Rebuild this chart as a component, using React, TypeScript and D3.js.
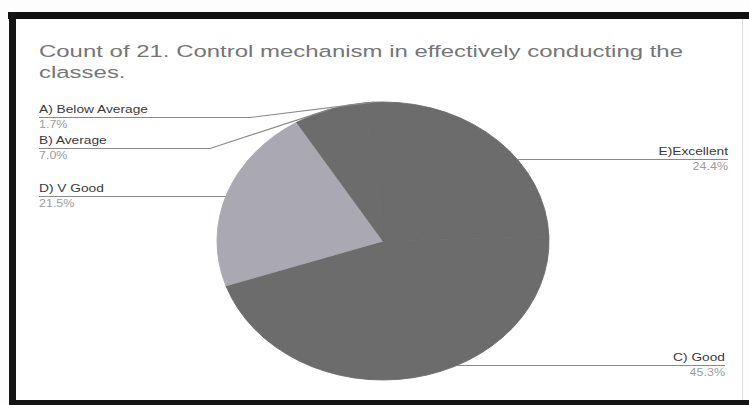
import React from "react";
import * as d3 from "d3";

// ---- data ----
const title = ["Count of 21. Control mechanism in effectively conducting the", "classes."];
const categories = ["E)Excellent", "C) Good", "D) V Good", "B) Average", "A) Below Average"];
const percents = [24.4, 45.3, 21.5, 7.0, 1.7];
const percentLabels = ["24.4%", "45.3%", "21.5%", "7.0%", "1.7%"];
const sliceColors = ["#6c6c6c", "#6c6c6c", "#aaa8b0", "#6c6c6c", "#6c6c6c"];

// ---- layout (positions only) ----
const W = 749;
const H = 405;
const cx = 383;
const cy = 241;
const rx = 166;
const ry = 139;
const STRETCH = 1.25;
type Lay = { side: "left" | "right"; x: number; y: number; elbowX?: number };
const labelLayout: Lay[] = [
  { side: "right", x: 728, y: 155 },
  { side: "right", x: 725, y: 361 },
  { side: "left", x: 39, y: 192 },
  { side: "left", x: 39, y: 144, elbowX: 210 },
  { side: "left", x: 39, y: 113, elbowX: 250 },
];

const FONT = "'Liberation Sans', Arial, sans-serif";

export default function App() {
  const pie = d3.pie<number>().sort(null).value((d) => d);
  const arcs = pie(percents);
  const arcGen = d3.arc<d3.PieArcDatum<number>>().innerRadius(0).outerRadius(ry);

  const edgeX = (y: number, side: "left" | "right") => {
    const t = (y - cy) / ry;
    const k = Math.sqrt(Math.max(0, 1 - t * t));
    return side === "left" ? cx - rx * k : cx + rx * k;
  };

  return (
    <svg
      width={W}
      height={H}
      style={{ position: "absolute", left: 0, top: 0, background: "#fff" }}
    >
      <rect x={0} y={0} width={W} height={H} fill="#fdfdfd" />
      {/* frame */}
      <rect x={8} y={12} width={W - 8} height={7} fill="#111" />
      <rect x={9} y={12} width={7} height={H - 12} fill="#151515" />
      <rect x={9} y={400} width={W - 9} height={5} fill="#141414" />
      <line x1={742} y1={19} x2={742} y2={400} stroke="#cfcfcf" strokeWidth={1.5} />
      <rect x={16} y={19} width={726} height={381} fill="#fff" />

      {/* title */}
      <g transform={`translate(39,57) scale(1.41,1)`} fill="#767676" fontFamily={FONT} fontSize={17}>
        <text x={0} y={0}>{title[0]}</text>
        <text x={0} y={21}>{title[1]}</text>
      </g>

      {/* pie */}
      <g transform={`translate(${cx},${cy}) scale(${rx / ry},1)`}>
        {arcs.map((a, i) => (
          <path
            key={i}
            d={arcGen(a) || ""}
            fill={sliceColors[i]}
            stroke={sliceColors[i]}
            strokeWidth={0.8}
          />
        ))}
      </g>

      {/* leader lines */}
      {arcs.map((a, i) => {
        const L = labelLayout[i];
        const lineY = L.y + 4.5;
        let pts: [number, number][];
        if (L.elbowX !== undefined) {
          const mid = (a.startAngle + a.endAngle) / 2;
          const px = cx + rx * Math.sin(mid);
          const py = cy - ry * Math.cos(mid);
          pts = [
            [L.x, lineY],
            [L.elbowX, lineY],
            [px, py],
          ];
        } else {
          pts = [
            [L.x, lineY],
            [edgeX(lineY, L.side), lineY],
          ];
        }
        return (
          <path
            key={i}
            d={d3.line()(pts) || ""}
            fill="none"
            stroke="#8a8a8a"
            strokeWidth={1.2}
          />
        );
      })}

      {/* labels */}
      {categories.map((c, i) => {
        const L = labelLayout[i];
        const anchor = L.side === "left" ? "start" : "end";
        return (
          <g key={i} fontFamily={FONT}>
            <g transform={`translate(${L.x},${L.y}) scale(${STRETCH},1)`}>
              <text x={0} y={0} fontSize={11} fill="#3a3a3a" textAnchor={anchor}>
                {c}
              </text>
            </g>
            <g transform={`translate(${L.x},${L.y + 15}) scale(${STRETCH},1)`}>
              <text x={0} y={0} fontSize={10} fill="#9c9c9c" textAnchor={anchor}>
                {percentLabels[i]}
              </text>
            </g>
          </g>
        );
      })}
    </svg>
  );
}
